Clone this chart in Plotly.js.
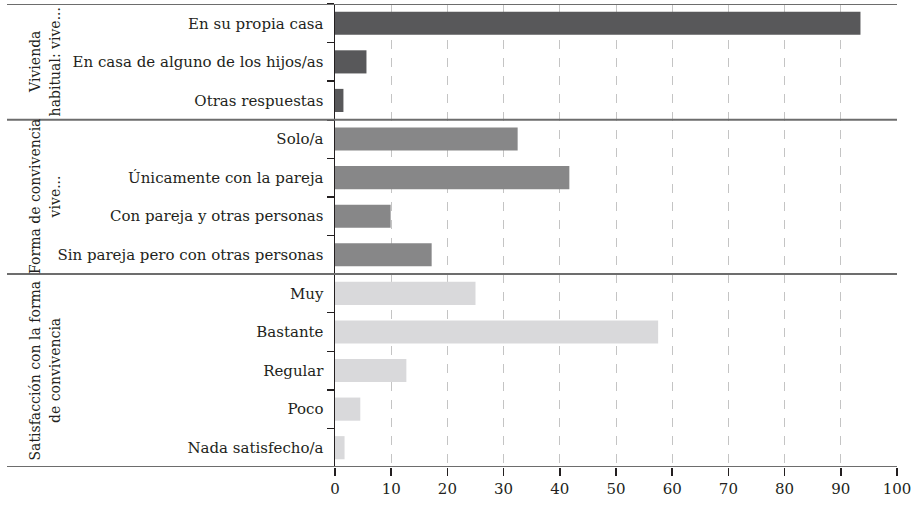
<!DOCTYPE html>
<html>
<head>
<meta charset="utf-8">
<script src="https://cdn.plot.ly/plotly-3.0.1.min.js"></script>
<style>html,body{margin:0;padding:0;background:#fff;}#chart{width:916px;height:505px;}</style>
</head>
<body>
<div id="chart"></div>
<script>
// Data
const groupLines = [
  ['Vivienda', 'habitual: vive...'],
  ['Forma de convivencia', 'vive...'],
  ['Satisfacción con la forma', 'de convivencia']
];
const catsVivienda = ['En su propia casa', 'En casa de alguno de los hijos/as', 'Otras respuestas'];
const valsVivienda = [93.5, 5.6, 1.5];
const catsForma = ['Solo/a', 'Únicamente con la pareja', 'Con pareja y otras personas', 'Sin pareja pero con otras personas'];
const valsForma = [32.5, 41.7, 9.9, 17.2];
const catsSatisf = ['Muy', 'Bastante', 'Regular', 'Poco', 'Nada satisfecho/a'];
const valsSatisf = [25.0, 57.5, 12.7, 4.5, 1.7];
const xTicks = [0, 10, 20, 30, 40, 50, 60, 70, 80, 90, 100];

const cats = [catsVivienda, catsForma, catsSatisf];
const vals = [valsVivienda, valsForma, valsSatisf];
const colors = ['#58585a', '#878788', '#d9d9db'];

const FONT = 'DejaVu Serif';
const allCats = [].concat(...cats);

const traces = cats.map((c, i) => ({
  type: 'bar', orientation: 'h', y: c, x: vals[i],
  marker: {color: colors[i], line: {width: 0}},
  hoverinfo: 'x+y', showlegend: false
}));

// geometry (paper coords)
const L = 335, R = 897, W = R - L;
const px = p => (p - L) / W;

const shapes = [];
const annotations = [];
let start = 0;
const boundaries = [-0.5];
cats.forEach((c, i) => {
  const end = start + c.length;
  boundaries.push(end - 0.5);
  const center = (start + end - 1) / 2;
  const xs = [35, 54.5];
  groupLines[i].forEach((t, j) => {
    annotations.push({
      text: t, xref: 'paper', yref: 'y', x: px(xs[j]), y: center,
      textangle: -90, showarrow: false, xanchor: 'center', yanchor: 'middle',
      font: {family: FONT, size: 14, color: '#231f20'}
    });
  });
  start = end;
});
boundaries.forEach((b, k) => {
  shapes.push({
    type: 'line', xref: 'paper', yref: 'y', x0: px(7), x1: 1, y0: b, y1: b,
    line: {color: '#6d6d6d', width: 2}, layer: 'above'
  });
});

const layout = {
  width: 916, height: 505,
  margin: {l: L, r: 916 - R, t: 4, b: 38, pad: 0},
  paper_bgcolor: '#fff', plot_bgcolor: '#fff',
  barmode: 'overlay', bargap: 0.4,
  font: {family: FONT, size: 15, color: '#231f20'},
  xaxis: {
    range: [0, 100], tickvals: xTicks, ticktext: xTicks.map(String),
    showgrid: true, gridcolor: '#c4c4c4', griddash: 'dash', gridwidth: 1,
    zeroline: false, showline: false,
    ticks: 'outside', ticklen: 8, tickwidth: 1.5, tickcolor: '#231f20',
    tickfont: {family: FONT, size: 15, color: '#231f20'}, fixedrange: true
  },
  yaxis: {
    type: 'category', categoryorder: 'array', categoryarray: allCats,
    range: [allCats.length - 0.5, -0.5],
    showline: true, linecolor: '#231f20', linewidth: 1.5,
    ticks: 'outside', tickson: 'boundaries', ticklen: 7, tickwidth: 1.5, tickcolor: '#231f20',
    showgrid: false, zeroline: false,
    tickfont: {family: FONT, size: 15, color: '#231f20'}, ticklabelstandoff: 7, fixedrange: true
  },
  shapes: shapes,
  annotations: annotations
};

Plotly.newPlot('chart', traces, layout, {displayModeBar: false, staticPlot: true});
</script>
</body>
</html>
